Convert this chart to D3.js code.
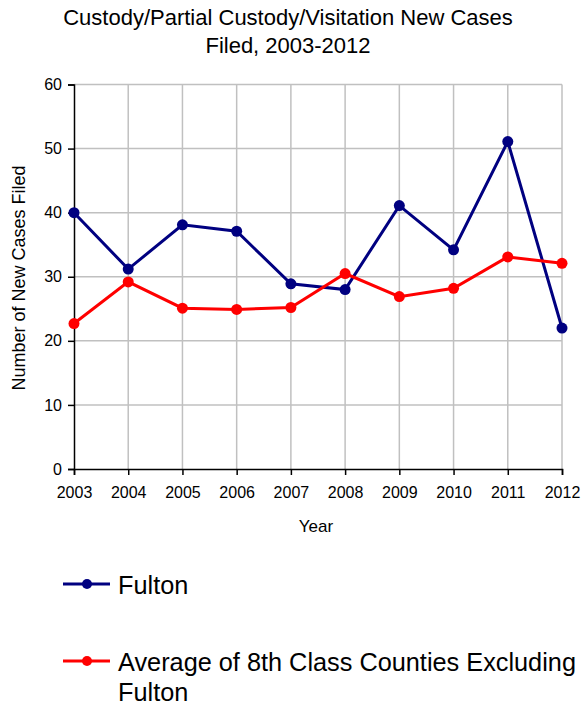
<!DOCTYPE html>
<html>
<head>
<meta charset="utf-8">
<script src="https://cdn.jsdelivr.net/npm/d3@7"></script>
<style>
  body { margin: 0; background: #fff; }
  text { font-family: "Liberation Sans", Arial, sans-serif; fill: #000; }
</style>
</head>
<body>
<svg id="chart" width="585" height="706"></svg>
<script>
const years = [2003, 2004, 2005, 2006, 2007, 2008, 2009, 2010, 2011, 2012]
const fulton = [40, 31.2, 38.1, 37.1, 28.9, 28, 41.1, 34.2, 51.1, 22]
const average = [22.7, 29.2, 25.1, 24.9, 25.2, 30.5, 26.9, 28.2, 33.1, 32.1]
const yTicks = [0, 10, 20, 30, 40, 50, 60]
const seriesNames = ['Fulton', 'Average of 8th Class Counties Excluding Fulton']
const seriesColors = ['#000080', '#ff0000']

const svg = d3.select('#chart')
const plot = { left: 74, right: 562, top: 84.5, bottom: 469 }

const x = d3.scalePoint().domain(years).range([plot.left, plot.right])
const y = d3.scaleLinear().domain([0, 60]).range([plot.bottom, plot.top])

// title
svg.append('text').attr('x', 288).attr('y', 25).attr('text-anchor', 'middle')
  .style('font-size', '22px').text('Custody/Partial Custody/Visitation New Cases')
svg.append('text').attr('x', 288).attr('y', 53).attr('text-anchor', 'middle')
  .style('font-size', '22px').text('Filed, 2003-2012')

// grid
const grid = svg.append('g')
grid.selectAll('line.h').data(yTicks.filter((d) => d > 0)).enter().append('line')
  .attr('x1', plot.left).attr('x2', plot.right).attr('y1', (d) => y(d)).attr('y2', (d) => y(d))
  .attr('stroke', '#c0c0c0').attr('stroke-width', 1.5)
grid.selectAll('line.v').data(years.slice(1)).enter().append('line')
  .attr('x1', (d) => x(d)).attr('x2', (d) => x(d)).attr('y1', plot.top).attr('y2', plot.bottom)
  .attr('stroke', '#c0c0c0').attr('stroke-width', 1.5)

// axes
const yAxis = svg.append('g').attr('transform', `translate(${plot.left},0)`)
  .call(d3.axisLeft(y).tickValues(yTicks).tickSize(6).tickPadding(6))
yAxis.select('.domain').attr('stroke-width', 1.5)
yAxis.selectAll('.tick line').attr('stroke-width', 1.5)
yAxis.selectAll('text').style('font-size', '16px')

const xAxis = svg.append('g').attr('transform', `translate(0,${plot.bottom})`)
  .call(d3.axisBottom(x).tickSize(6).tickPadding(12).tickFormat(d3.format('d')))
xAxis.select('.domain').attr('stroke-width', 1.5)
xAxis.selectAll('.tick line').attr('stroke-width', 1.5)
xAxis.selectAll('text').style('font-size', '16px')

svg.append('text').attr('transform', 'translate(25,278) rotate(-90)')
  .attr('text-anchor', 'middle').style('font-size', '18px').text('Number of New Cases Filed')
svg.append('text').attr('x', 316).attr('y', 532).attr('text-anchor', 'middle')
  .style('font-size', '17px').text('Year')

// lines
const line = d3.line().x((d, i) => x(years[i])).y((d) => y(d))
;[fulton, average].forEach((values, k) => {
  const g = svg.append('g')
  g.append('path').datum(values).attr('d', line).attr('fill', 'none')
    .attr('stroke', seriesColors[k]).attr('stroke-width', 3)
  g.selectAll('circle').data(values).enter().append('circle')
    .attr('cx', (d, i) => x(years[i])).attr('cy', (d) => y(d)).attr('r', 5.5)
    .attr('fill', seriesColors[k])
})

// legend
const legendY = [584, 661]
seriesNames.forEach((name, k) => {
  const g = svg.append('g').attr('transform', `translate(0,${legendY[k]})`)
  g.append('line').attr('x1', 63).attr('x2', 110).attr('y1', 0).attr('y2', 0)
    .attr('stroke', seriesColors[k]).attr('stroke-width', 3)
  g.append('circle').attr('cx', 87).attr('cy', 0).attr('r', 5).attr('fill', seriesColors[k])
  const t = g.append('text').attr('x', 118).attr('y', 10).style('font-size', '25.3px')
  if (k === 1) {
    t.append('tspan').attr('x', 118).text('Average of 8th Class Counties Excluding')
    t.append('tspan').attr('x', 118).attr('dy', 30).text('Fulton')
  } else {
    t.text(name)
  }
})
</script>
</body>
</html>
